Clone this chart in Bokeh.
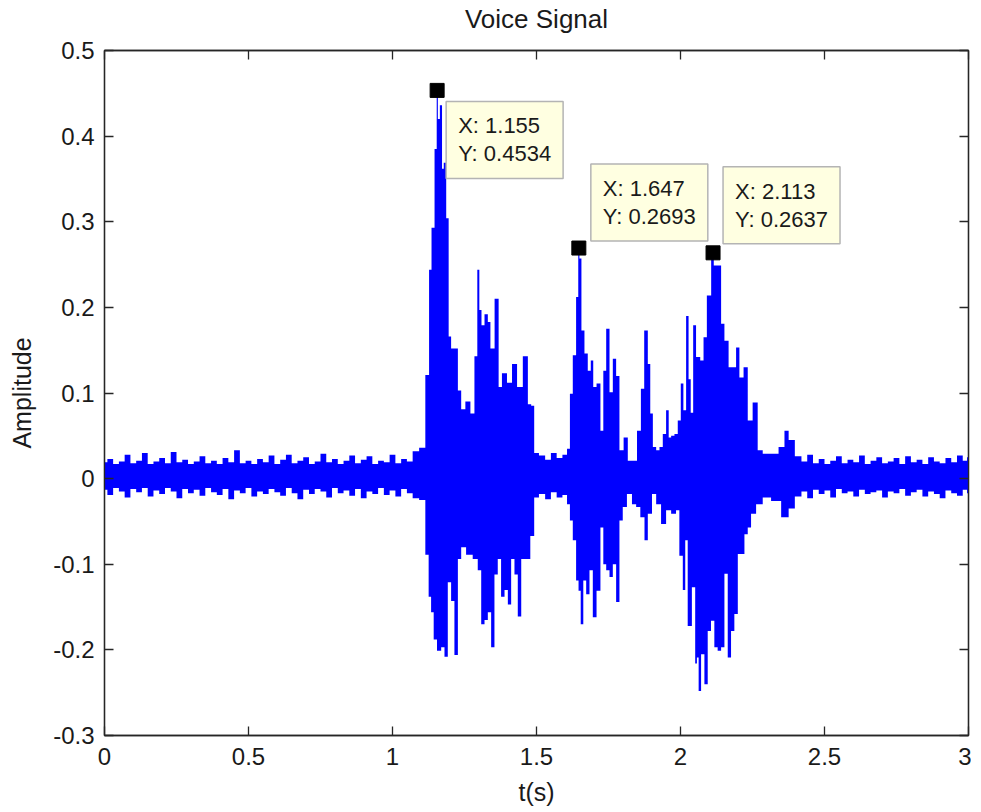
from bokeh.plotting import figure
from bokeh.models import LinearAxis, Label, Range1d, FixedTicker
from bokeh.embed import file_html
from bokeh.resources import INLINE

# ---------------- data ----------------
title_text = "Voice Signal"
x_label = "t(s)"
y_label = "Amplitude"
x_ticks = [0.0, 0.5, 1.0, 1.5, 2.0, 2.5, 3.0]
x_tick_labels = ["0", "0.5", "1", "1.5", "2", "2.5", "3"]
y_ticks = [-0.3, -0.2, -0.1, 0.0, 0.1, 0.2, 0.3, 0.4, 0.5]
y_tick_labels = ["-0.3", "-0.2", "-0.1", "0", "0.1", "0.2", "0.3", "0.4", "0.5"]

# upper envelope of the voice waveform (time s, amplitude)
up_t = [
    0.00, 0.02, 0.04, 0.06, 0.08, 0.10, 0.12, 0.14, 0.16, 0.18,
    0.20, 0.22, 0.24, 0.26, 0.28, 0.30, 0.32, 0.34, 0.36, 0.38,
    0.40, 0.42, 0.44, 0.46, 0.48, 0.50, 0.52, 0.54, 0.56, 0.58,
    0.60, 0.62, 0.64, 0.66, 0.68, 0.70, 0.72, 0.74, 0.76, 0.78,
    0.80, 0.82, 0.84, 0.86, 0.88, 0.90, 0.92, 0.94, 0.96, 0.98,
    1.00, 1.02, 1.04, 1.06, 1.08,
    1.105, 1.123, 1.131, 1.140, 1.152, 1.155, 1.160, 1.169, 1.175, 1.181,
    1.192, 1.198, 1.209, 1.221, 1.233, 1.244, 1.262, 1.279, 1.290, 1.299,
    1.304, 1.314, 1.325, 1.337, 1.343, 1.366, 1.371, 1.389, 1.406, 1.424,
    1.441, 1.464, 1.476, 1.487, 1.497,
    1.52, 1.54, 1.56, 1.58, 1.60, 1.612,
    1.620, 1.632, 1.643, 1.647, 1.651, 1.661, 1.672, 1.684, 1.693, 1.701,
    1.716, 1.728, 1.736, 1.748, 1.759, 1.771, 1.782, 1.794, 1.811, 1.823,
    1.840, 1.858, 1.867, 1.881, 1.892, 1.898, 1.910, 1.921, 1.933, 1.944,
    1.956, 1.962, 1.973, 1.985, 1.996, 2.006, 2.014, 2.025, 2.031, 2.040,
    2.048, 2.060, 2.077, 2.083, 2.100, 2.113, 2.118, 2.135, 2.147, 2.158,
    2.176, 2.187, 2.199, 2.210, 2.228, 2.239, 2.262, 2.274, 2.297, 2.326,
    2.355, 2.367, 2.384,
    2.41, 2.43, 2.45, 2.47, 2.49, 2.51, 2.53, 2.55, 2.57, 2.59,
    2.61, 2.63, 2.65, 2.67, 2.69, 2.71, 2.73, 2.75, 2.77, 2.79,
    2.81, 2.83, 2.85, 2.87, 2.89, 2.91, 2.93, 2.95, 2.97, 2.99, 3.00,
]
up_v = [
    0.019, 0.023, 0.017, 0.020, 0.028, 0.018, 0.021, 0.030, 0.017, 0.020,
    0.024, 0.018, 0.031, 0.019, 0.022, 0.017, 0.020, 0.026, 0.018, 0.021,
    0.017, 0.024, 0.019, 0.033, 0.018, 0.021, 0.017, 0.023, 0.019, 0.027,
    0.017, 0.022, 0.028, 0.018, 0.021, 0.025, 0.017, 0.020, 0.029, 0.019,
    0.023, 0.017, 0.021, 0.027, 0.018, 0.022, 0.026, 0.017, 0.021, 0.019,
    0.028, 0.018, 0.023, 0.020, 0.032,
    0.036, 0.121, 0.244, 0.293, 0.385, 0.4534, 0.420, 0.436, 0.362, 0.369,
    0.304, 0.166, 0.152, 0.152, 0.103, 0.081, 0.090, 0.076, 0.143, 0.244,
    0.197, 0.179, 0.192, 0.183, 0.152, 0.210, 0.107, 0.123, 0.112, 0.134,
    0.107, 0.143, 0.087, 0.085, 0.030,
    0.027, 0.022, 0.030, 0.024, 0.028, 0.035,
    0.099, 0.144, 0.212, 0.2693, 0.257, 0.173, 0.146, 0.126, 0.138, 0.107,
    0.111, 0.056, 0.126, 0.175, 0.101, 0.140, 0.120, 0.033, 0.048, 0.021,
    0.021, 0.056, 0.105, 0.173, 0.134, 0.076, 0.037, 0.033, 0.037, 0.052,
    0.080, 0.048, 0.050, 0.052, 0.068, 0.111, 0.080, 0.190, 0.116, 0.077,
    0.179, 0.142, 0.138, 0.165, 0.214, 0.2637, 0.249, 0.249, 0.181, 0.161,
    0.130, 0.130, 0.153, 0.118, 0.130, 0.068, 0.089, 0.033, 0.029, 0.029,
    0.037, 0.056, 0.045,
    0.026, 0.020, 0.028, 0.018, 0.023, 0.017, 0.021, 0.026, 0.018, 0.022,
    0.019, 0.027, 0.017, 0.021, 0.025, 0.018, 0.020, 0.024, 0.017, 0.026,
    0.019, 0.022, 0.017, 0.025, 0.020, 0.018, 0.024, 0.019, 0.027, 0.021, 0.025,
]

# lower envelope of the voice waveform (time s, amplitude)
lo_t = [
    0.00, 0.02, 0.04, 0.06, 0.08, 0.10, 0.12, 0.14, 0.16, 0.18,
    0.20, 0.22, 0.24, 0.26, 0.28, 0.30, 0.32, 0.34, 0.36, 0.38,
    0.40, 0.42, 0.44, 0.46, 0.48, 0.50, 0.52, 0.54, 0.56, 0.58,
    0.60, 0.62, 0.64, 0.66, 0.68, 0.70, 0.72, 0.74, 0.76, 0.78,
    0.80, 0.82, 0.84, 0.86, 0.88, 0.90, 0.92, 0.94, 0.96, 0.98,
    1.00, 1.02, 1.04, 1.06, 1.08,
    1.105, 1.123, 1.128, 1.140, 1.146, 1.163, 1.175, 1.186, 1.198, 1.209,
    1.221, 1.233, 1.244, 1.267, 1.290, 1.302, 1.314, 1.325, 1.337, 1.348,
    1.360, 1.371, 1.383, 1.395, 1.406, 1.418, 1.429, 1.441, 1.453, 1.470,
    1.487, 1.497,
    1.52, 1.54, 1.56, 1.58, 1.60, 1.612,
    1.620, 1.632, 1.643, 1.649, 1.658, 1.667, 1.678, 1.690, 1.701, 1.716,
    1.728, 1.736, 1.748, 1.759, 1.771, 1.782, 1.794, 1.805, 1.823, 1.840,
    1.852, 1.869, 1.881, 1.892, 1.910, 1.921, 1.944, 1.956, 1.979, 1.990,
    2.002, 2.014, 2.019, 2.031, 2.048, 2.054, 2.060, 2.066, 2.077, 2.089,
    2.100, 2.112, 2.123, 2.135, 2.147, 2.158, 2.170, 2.181, 2.193, 2.205,
    2.216, 2.228, 2.239, 2.251, 2.274, 2.297, 2.332, 2.367, 2.384,
    2.41, 2.43, 2.45, 2.47, 2.49, 2.51, 2.53, 2.55, 2.57, 2.59,
    2.61, 2.63, 2.65, 2.67, 2.69, 2.71, 2.73, 2.75, 2.77, 2.79,
    2.81, 2.83, 2.85, 2.87, 2.89, 2.91, 2.93, 2.95, 2.97, 2.99, 3.00,
]
lo_v = [
    -0.013, -0.019, -0.011, -0.015, -0.022, -0.012, -0.016, -0.011, -0.021, -0.014,
    -0.018, -0.011, -0.015, -0.023, -0.012, -0.017, -0.013, -0.020, -0.011, -0.016,
    -0.019, -0.012, -0.024, -0.014, -0.017, -0.011, -0.021, -0.015, -0.018, -0.012,
    -0.016, -0.020, -0.011, -0.017, -0.024, -0.013, -0.018, -0.012, -0.015, -0.022,
    -0.011, -0.017, -0.014, -0.020, -0.012, -0.023, -0.015, -0.018, -0.011, -0.019,
    -0.014, -0.021, -0.012, -0.017, -0.023,
    -0.025, -0.089, -0.138, -0.156, -0.188, -0.201, -0.197, -0.208, -0.121, -0.143,
    -0.206, -0.094, -0.080, -0.089, -0.094, -0.107, -0.170, -0.165, -0.156, -0.197,
    -0.112, -0.094, -0.138, -0.130, -0.147, -0.094, -0.112, -0.161, -0.094, -0.094,
    -0.067, -0.022,
    -0.018, -0.024, -0.016, -0.022, -0.019, -0.030,
    -0.049, -0.072, -0.119, -0.131, -0.170, -0.119, -0.135, -0.107, -0.162, -0.131,
    -0.057, -0.100, -0.107, -0.115, -0.100, -0.144, -0.049, -0.033, -0.018, -0.030,
    -0.033, -0.045, -0.072, -0.041, -0.018, -0.030, -0.053, -0.037, -0.041, -0.037,
    -0.090, -0.130, -0.072, -0.172, -0.127, -0.216, -0.209, -0.248, -0.205, -0.240,
    -0.178, -0.166, -0.197, -0.201, -0.197, -0.111, -0.209, -0.178, -0.158, -0.088,
    -0.088, -0.065, -0.057, -0.041, -0.030, -0.022, -0.026, -0.045, -0.035,
    -0.021, -0.015, -0.023, -0.013, -0.018, -0.014, -0.022, -0.012, -0.017, -0.015,
    -0.021, -0.013, -0.018, -0.016, -0.014, -0.022, -0.015, -0.017, -0.012, -0.020,
    -0.016, -0.013, -0.021, -0.015, -0.018, -0.023, -0.014, -0.017, -0.020, -0.013, -0.017,
]

# data tips
tip_t = [1.155, 1.647, 2.113]
tip_v = [0.4534, 0.2693, 0.2637]

# ---------------- figure ----------------
FONT = "Liberation Sans"
BLUE = "#0000ff"
AX = "#262626"
TXT = "#1a1a1a"

p = figure(
    frame_width=864, frame_height=685,
    min_border_left=104, min_border_right=3, min_border_top=50, min_border_bottom=72,
    x_range=Range1d(0, 3), y_range=Range1d(-0.3, 0.5),
    output_backend="svg", toolbar_location=None,
    title=None,
)
p.background_fill_color = "white"
p.border_fill_color = "white"
p.outline_line_color = AX
p.outline_line_width = 1.3
p.grid.visible = False

xfmt = {float(v): s for v, s in zip(x_ticks, x_tick_labels)}
yfmt = {float(v): s for v, s in zip(y_ticks, y_tick_labels)}


def style_axis(ax, labels=True):
    ax.axis_line_color = AX
    ax.axis_line_width = 1.3
    ax.major_tick_line_color = AX
    ax.major_tick_line_width = 1.3
    ax.major_tick_in = 9
    ax.major_tick_out = 0
    ax.minor_tick_line_color = None
    ax.major_label_text_font = FONT
    ax.major_label_text_color = TXT
    ax.axis_label_text_font = FONT
    ax.axis_label_text_font_style = "normal"
    ax.axis_label_text_color = TXT
    ax.axis_label_text_font_size = "25px"
    if labels:
        ax.major_label_text_font_size = "24px"
    else:
        ax.major_label_text_font_size = "1px"
        ax.major_label_text_color = None
        ax.major_label_standoff = 0


xa = p.xaxis[0]
xa.ticker = FixedTicker(ticks=x_ticks)
xa.major_label_overrides = xfmt
xa.axis_label = x_label
style_axis(xa)
xa.major_label_standoff = 12
xa.axis_label_standoff = 10

ya = p.yaxis[0]
ya.ticker = FixedTicker(ticks=y_ticks)
ya.major_label_overrides = yfmt
ya.axis_label = y_label
style_axis(ya)
ya.major_label_standoff = 10
ya.axis_label_standoff = 14

# box axis on top: ticks only, carrying the chart title above it
top = LinearAxis(ticker=FixedTicker(ticks=x_ticks))
style_axis(top, labels=False)
top.axis_label = title_text
top.axis_label_text_font_size = "26px"
top.axis_label_standoff = 17
p.add_layout(top, "above")

right = LinearAxis(ticker=FixedTicker(ticks=y_ticks))
style_axis(right, labels=False)
p.add_layout(right, "right")

# waveform: dense skyline of the sampled signal, as upper and lower envelopes
p.varea_step(x=up_t, y1=-0.005, y2=up_v, step_mode="center", fill_color=BLUE, fill_alpha=1.0)
p.varea_step(x=lo_t, y1=lo_v, y2=0.005, step_mode="center", fill_color=BLUE, fill_alpha=1.0)

# data tip markers
p.scatter(tip_t, tip_v, marker="square", size=14, fill_color="black", line_color="black")

tip_dx = [9, 12, 10]
tip_dy = [-11, 84, 86]
for t, v, dx, dy in zip(tip_t, tip_v, tip_dx, tip_dy):
    p.add_layout(Label(
        x=t, y=v, x_offset=dx, y_offset=dy,
        text=f"X: {t}\nY: {v}",
        text_align="left", text_baseline="top",
        text_font=FONT, text_font_size="22px", text_color=TXT,
        text_line_height=1.12,
        background_fill_color="#ffffe1", background_fill_alpha=1.0,
        border_line_color="#b4b4b4", border_line_width=1.5,
        padding=12,
    ))

open("out.html", "w").write(file_html(p, INLINE))
